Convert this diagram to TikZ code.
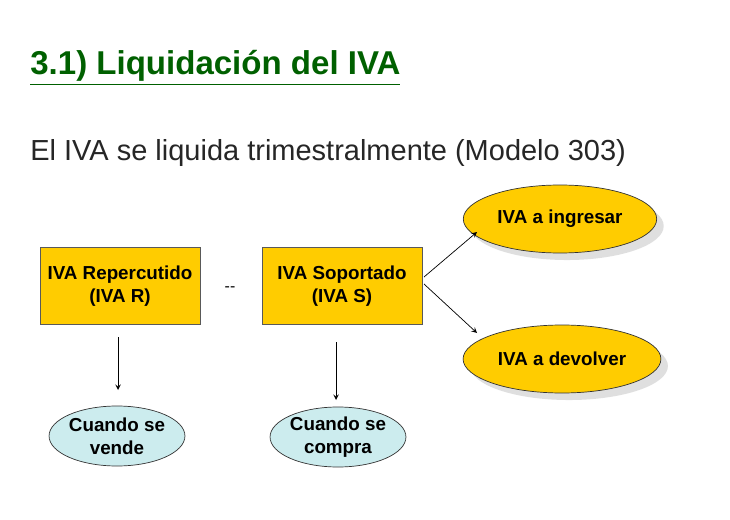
\documentclass[tikz,border=0pt]{standalone}
\usepackage{fontspec}
\setmainfont{Liberation Sans}
\usetikzlibrary{shapes.geometric,shadows}
\definecolor{titlegreen}{RGB}{0,96,0}
\definecolor{boxyellow}{RGB}{255,204,0}
\definecolor{paleblue}{RGB}{204,236,238}
\tikzset{
  caja/.style={draw=gray!70!black,fill=boxyellow,minimum width=160*0.02cm,minimum height=77*0.02cm,align=center,font=\bfseries\fontsize{10.7}{13}\selectfont},
  resultado/.style={ellipse,draw=black!80,fill=boxyellow,minimum width=172*0.02cm,minimum height=68*0.02cm,font=\bfseries\fontsize{10.7}{13}\selectfont,drop shadow={shadow xshift=4pt,shadow yshift=-4pt,fill=gray!50}},
  cuando/.style={ellipse,draw=black!80,fill=paleblue,minimum width=122*0.02cm,minimum height=60*0.02cm,inner sep=0pt,align=center,font=\bfseries\fontsize{10.7}{13}\selectfont},
  flecha/.style={->,>=stealth,thin}
}
\begin{document}
\begin{tikzpicture}[x=0.02cm,y=-0.02cm]
    \useasboundingbox (0,0) rectangle (730,520);
    \node [anchor=west,inner sep=0pt,text=titlegreen,font=\bfseries\fontsize{18.8}{22}\selectfont] (titulo) at (30,68) {\underline{3.1) Liquidación del IVA}};
    \node [anchor=west,inner sep=0pt,text=black!85,font=\fontsize{16.5}{19}\selectfont] (sub) at (30,153) {El IVA se liquida trimestralmente (Modelo 303)};
    \node [caja] (rep) at (120,286) {IVA Repercutido\\(IVA R)};
    \node [caja] (sop) at (342,286) {IVA Soportado\\(IVA S)};
    \node [font=\fontsize{9}{10}\selectfont] (menos) at (230,289) {{-}{-}};
    \node [resultado] (ing) at (560,219) {IVA a ingresar};
    \node [resultado] (dev) at (562,359) {IVA a devolver};
    \node [cuando] (vende) at (117,436) {Cuando se\\vende};
    \node [cuando] (compra) at (338,437) {Cuando se\\compra};
    % arrow ends
    \coordinate (r1) at (118,337); \coordinate (r2) at (118,390);
    \coordinate (s1) at (336,342); \coordinate (s2) at (336,400);
    \coordinate (a1) at (424,277); \coordinate (a2) at (477,232);
    \coordinate (b1) at (424,284); \coordinate (b2) at (477,333);
    \draw [flecha] (r1) -- (r2);
    \draw [flecha] (s1) -- (s2);
    \draw [flecha] (a1) -- (a2);
    \draw [flecha] (b1) -- (b2);
\end{tikzpicture}
\end{document}
